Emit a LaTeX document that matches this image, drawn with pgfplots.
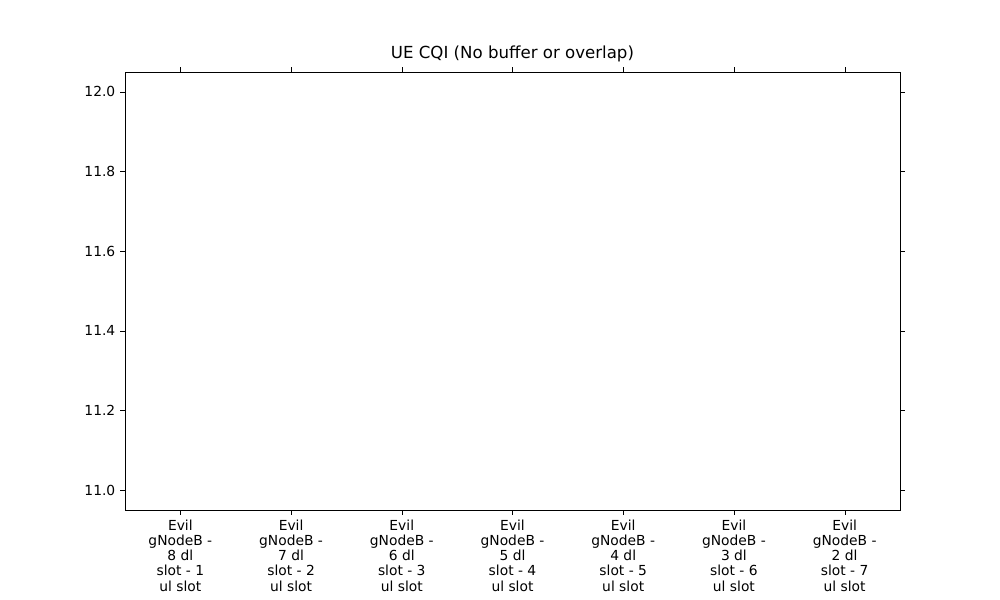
\documentclass[border=0pt]{standalone}
\usepackage{pgfplots}
\pgfplotsset{compat=1.18}
\usepgfplotslibrary{statistics}
\usepackage{fontspec}
\setmainfont{DejaVu Sans}
\definecolor{mplorange}{HTML}{FF7F0E}
\begin{document}
\begin{tikzpicture}
\path (-1.25in,-0.9in) rectangle (8.75in,5.1in);
\begin{axis}[
  at={(0,0)}, anchor=south west,
  scale only axis, width=7.75in, height=4.38in,
  xmin=0.5, xmax=7.5, ymin=10.95, ymax=12.05,
  xtick={1,...,7},
  xticklabels={{Evil\\gNodeB -\\8 dl\\slot - 1\\ul slot},{Evil\\gNodeB -\\7 dl\\slot - 2\\ul slot},{Evil\\gNodeB -\\6 dl\\slot - 3\\ul slot},{Evil\\gNodeB -\\5 dl\\slot - 4\\ul slot},{Evil\\gNodeB -\\4 dl\\slot - 5\\ul slot},{Evil\\gNodeB -\\3 dl\\slot - 6\\ul slot},{Evil\\gNodeB -\\2 dl\\slot - 7\\ul slot}},
  xticklabel style={align=center, font=\fontsize{10}{11}\selectfont},
  yticklabel style={font=\fontsize{10}{11}\selectfont},
  ytick={11,11.2,11.4,11.6,11.8,12},
  yticklabel={\pgfmathprintnumber[fixed,fixed zerofill,precision=1]{\tick}},
  /pgf/number format/assume math mode=true,
  tick align=outside, major tick length=3.5pt,
  tick style={black},
  title={UE CQI (No buffer or overlap)},
  title style={font=\fontsize{12}{14}\selectfont, yshift=-2pt},
  boxplot/box extend=0.5,
  boxplot/whisker extend=0.25,
  boxplot/every median/.style={draw=mplorange, thick},
]
\pgfplotsinvokeforeach{1,2,4,5,6,7}{
\addplot[black, boxplot prepared={draw position=#1, median=12, lower quartile=12, upper quartile=12, lower whisker=12, upper whisker=12}] coordinates {};
}
\addplot[black, mark options={draw=black, fill=none, mark size=3pt, line width=0.8pt}, mark=o,
  boxplot prepared={draw position=3, median=11, lower quartile=11, upper quartile=11, lower whisker=11, upper whisker=11}] coordinates {(0,12)};
\end{axis}
\end{tikzpicture}
\end{document}
